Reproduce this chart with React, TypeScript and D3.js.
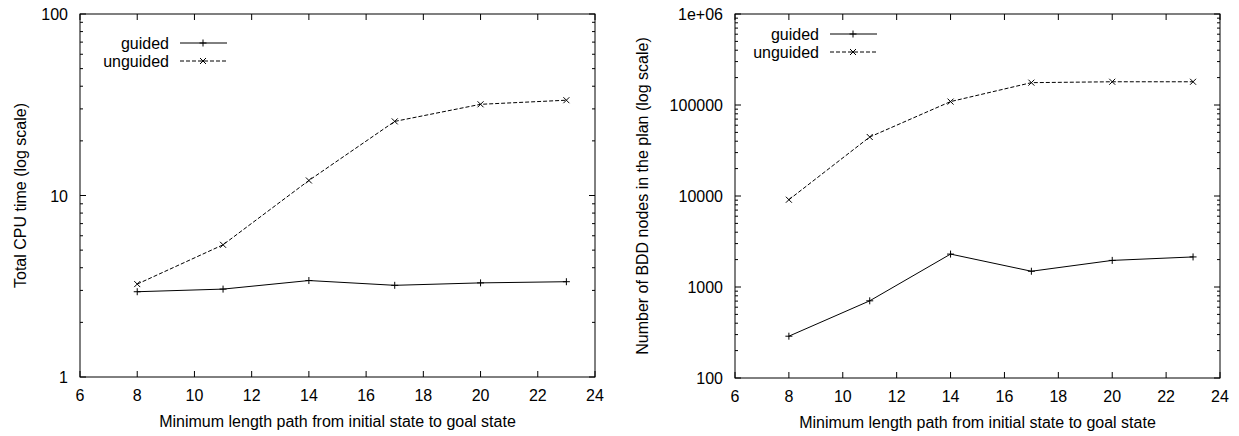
import React from 'react';
import * as d3 from 'd3';

const lengths = [8, 11, 14, 17, 20, 23];
const xTicks = [6, 8, 10, 12, 14, 16, 18, 20, 22, 24];

const cpuGuided = [2.95, 3.05, 3.4, 3.2, 3.3, 3.35];
const cpuUnguided = [3.25, 5.35, 12.1, 25.6, 31.8, 33.5];
const cpuTicks = [1, 10, 100];

const bddGuided = [288, 705, 2300, 1490, 1960, 2140];
const bddUnguided = [9100, 44500, 109000, 176000, 180000, 180000];
const bddTicks = [100, 1000, 10000, 100000, 1000000];
const bddTickLabels = ['100', '1000', '10000', '100000', '1e+06'];

const FONT = 'Liberation Sans, Arial, sans-serif';

type PanelProps = {
  left: number;
  right: number;
  top: number;
  bottom: number;
  domain: [number, number];
  yTicks: number[];
  yLabels: string[];
  guided: number[];
  unguided: number[];
  yTitle: string;
  yTitleX: number;
  legendX: number;
  legendY: number;
};

function Panel(p: PanelProps) {
  const x = d3.scaleLinear().domain([6, 24]).range([p.left, p.right]);
  const y = d3.scaleLog().domain(p.domain).range([p.bottom, p.top]);

  const minor: number[] = [];
  for (let i = 0; i < p.yTicks.length - 1; i++) {
    for (let k = 2; k <= 9; k++) minor.push(p.yTicks[i] * k);
  }

  const line = d3.line<number>().x((_, i) => x(lengths[i])).y(d => y(d));

  const plus = (cx: number, cy: number, key: string) => (
    <path key={key} d={`M${cx - 3.5},${cy}H${cx + 3.5}M${cx},${cy - 3.5}V${cy + 3.5}`} stroke="#000" strokeWidth={1} />
  );
  const cross = (cx: number, cy: number, key: string) => (
    <path key={key} d={`M${cx - 3},${cy - 3}L${cx + 3},${cy + 3}M${cx - 3},${cy + 3}L${cx + 3},${cy - 3}`} stroke="#000" strokeWidth={1} />
  );

  return (
    <g fontFamily={FONT} fontSize={16} fill="#000">
      {/* x ticks, bottom and top */}
      {xTicks.map(t => (
        <g key={'x' + t}>
          <line x1={x(t)} x2={x(t)} y1={p.bottom} y2={p.bottom - 6} stroke="#000" />
          <line x1={x(t)} x2={x(t)} y1={p.top} y2={p.top + 6} stroke="#000" />
          <text x={x(t)} y={p.bottom + 24} textAnchor="middle">{t}</text>
        </g>
      ))}
      {/* y major ticks */}
      {p.yTicks.map((t, i) => (
        <g key={'y' + t}>
          <line x1={p.left} x2={p.left + 6} y1={y(t)} y2={y(t)} stroke="#000" />
          <line x1={p.right} x2={p.right - 6} y1={y(t)} y2={y(t)} stroke="#000" />
          <text x={p.left - 12} y={y(t) + 6} textAnchor="end">{p.yLabels[i]}</text>
        </g>
      ))}
      {minor.map(t => (
        <g key={'m' + t}>
          <line x1={p.left} x2={p.left + 3} y1={y(t)} y2={y(t)} stroke="#000" />
          <line x1={p.right} x2={p.right - 3} y1={y(t)} y2={y(t)} stroke="#000" />
        </g>
      ))}
      <rect x={p.left} y={p.top} width={p.right - p.left} height={p.bottom - p.top} fill="none" stroke="#000" />

      <text x={(p.left + p.right) / 2} y={p.bottom + 50} textAnchor="middle">
        Minimum length path from initial state to goal state
      </text>
      <text
        transform={`translate(${p.yTitleX},${(p.top + p.bottom) / 2}) rotate(-90)`}
        textAnchor="middle"
      >
        {p.yTitle}
      </text>

      <path d={line(p.guided) || ''} fill="none" stroke="#000" strokeWidth={1} />
      <path d={line(p.unguided) || ''} fill="none" stroke="#000" strokeWidth={1} strokeDasharray="4,2" />
      {p.guided.map((v, i) => plus(x(lengths[i]), y(v), 'g' + i))}
      {p.unguided.map((v, i) => cross(x(lengths[i]), y(v), 'u' + i))}

      {/* legend */}
      <text x={p.legendX} y={p.legendY + 6} textAnchor="end">guided</text>
      <line x1={p.legendX + 11} x2={p.legendX + 58} y1={p.legendY} y2={p.legendY} stroke="#000" />
      {plus(p.legendX + 34, p.legendY, 'lg')}
      <text x={p.legendX} y={p.legendY + 24} textAnchor="end">unguided</text>
      <line x1={p.legendX + 11} x2={p.legendX + 58} y1={p.legendY + 18} y2={p.legendY + 18} stroke="#000" strokeDasharray="4,2" />
      {cross(p.legendX + 34, p.legendY + 18, 'lu')}
    </g>
  );
}

export default function App() {
  return (
    <svg width={1239} height={436} style={{ display: 'block', position: 'absolute', left: 0, top: 0, background: '#fff' }}>
      <rect width={1239} height={436} fill="#fff" />
      <Panel
        left={80}
        right={595}
        top={14}
        bottom={377}
        domain={[1, 100]}
        yTicks={cpuTicks}
        yLabels={cpuTicks.map(String)}
        guided={cpuGuided}
        unguided={cpuUnguided}
        yTitle="Total CPU time (log scale)"
        yTitleX={26}
        legendX={169}
        legendY={43}
      />
      <Panel
        left={735}
        right={1220}
        top={14}
        bottom={378}
        domain={[100, 1000000]}
        yTicks={bddTicks}
        yLabels={bddTickLabels}
        guided={bddGuided}
        unguided={bddUnguided}
        yTitle="Number of BDD nodes in the plan (log scale)"
        yTitleX={648}
        legendX={819}
        legendY={34}
      />
    </svg>
  );
}
